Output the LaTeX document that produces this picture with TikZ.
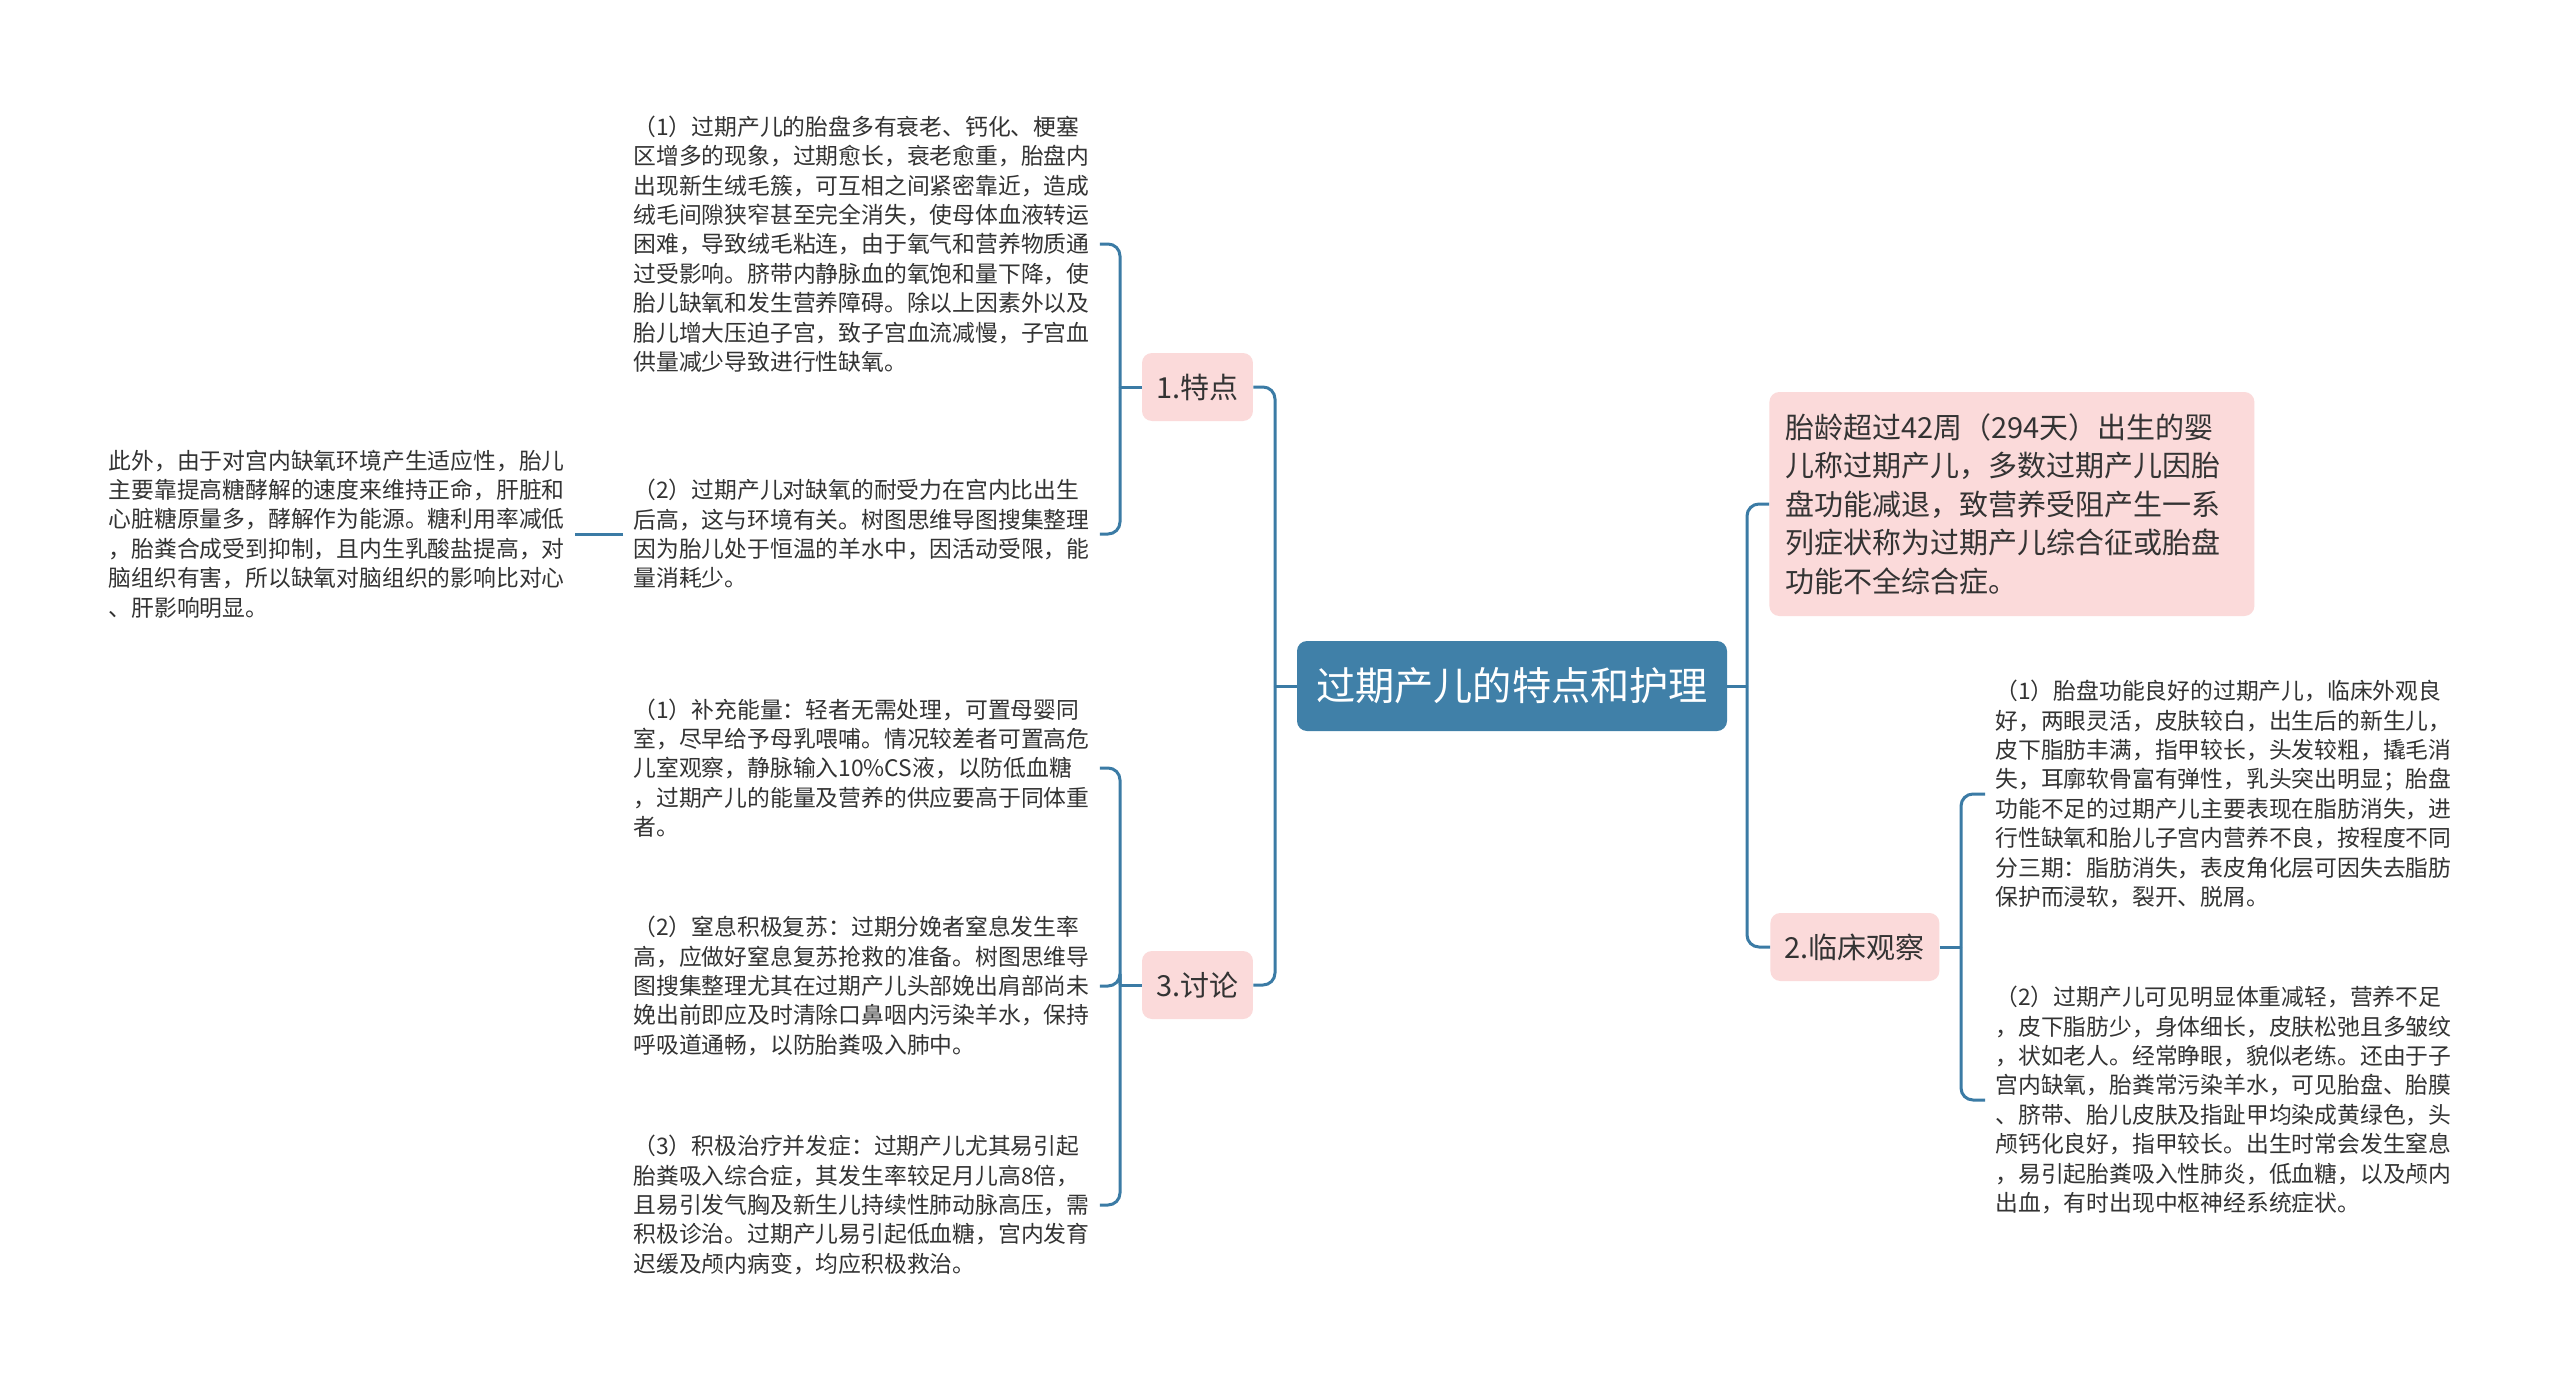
\documentclass[tikz,border=0pt]{standalone}
\usepackage{fontspec}
\setmainfont{Noto Sans CJK SC}
\usetikzlibrary{positioning}

\definecolor{linkblue}{HTML}{3B7BA5}
\definecolor{rootblue}{HTML}{4080A8}
\definecolor{topicpink}{HTML}{FBDADA}
\definecolor{inkgray}{HTML}{333333}

\tikzset{
  rootbox/.style={fill=rootblue, text=white, rounded corners=5pt,
    minimum width=215pt, minimum height=45pt, inner xsep=9pt,
    font=\fontsize{19.6pt}{24pt}\selectfont},
  topicbox/.style={fill=topicpink, text=inkgray, rounded corners=5pt,
    minimum height=34pt, inner xsep=7.2pt,
    font=\fontsize{14.5pt}{19.25pt}\selectfont},
  notetext/.style={text=inkgray, align=left, inner xsep=5pt, inner ysep=2pt,
    font=\fontsize{11.4pt}{14.7pt}\selectfont},
  branch/.style={draw=linkblue, line width=1.5pt},
}

\begin{document}
\begin{tikzpicture}[x=0.5pt, y=-0.5pt]

  \fill[white] (0,0) rectangle (2560,1386);
  \useasboundingbox (0,0) rectangle (2560,1386);

  % Define nodes
  \node[rootbox] (root) at (1512,686) {过期产儿的特点和护理};
  \node[topicbox] (t1) at (1197.5,387) {1.特点};
  \node[topicbox] (t3) at (1197.5,985) {3.讨论};
  \node[topicbox, anchor=west] (t2) at (1770,947) {2.临床观察};
  \node[topicbox, align=left, anchor=west, text width=226.5pt,
        minimum height=112pt, inner xsep=8pt] (def) at (1769,504)
    {胎龄超过42周（294天）出生的婴\\
     儿称过期产儿，多数过期产儿因胎\\
     盘功能减退，致营养受阻产生一系\\
     列症状称为过期产儿综合征或胎盘\\
     功能不全综合症。};

  % Notes of 1.特点
  \node[notetext, anchor=west] (a1) at (623,244)
    {（1）过期产儿的胎盘多有衰老、钙化、梗塞\\
     区增多的现象，过期愈长，衰老愈重，胎盘内\\
     出现新生绒毛簇，可互相之间紧密靠近，造成\\
     绒毛间隙狭窄甚至完全消失，使母体血液转运\\
     困难，导致绒毛粘连，由于氧气和营养物质通\\
     过受影响。脐带内静脉血的氧饱和量下降，使\\
     胎儿缺氧和发生营养障碍。除以上因素外以及\\
     胎儿增大压迫子宫，致子宫血流减慢，子宫血\\
     供量减少导致进行性缺氧。};
  \node[notetext, anchor=west] (a2) at (623,534)
    {（2）过期产儿对缺氧的耐受力在宫内比出生\\
     后高，这与环境有关。树图思维导图搜集整理\\
     因为胎儿处于恒温的羊水中，因活动受限，能\\
     量消耗少。};
  \node[notetext, left=24pt of a2] (a0)
    {此外，由于对宫内缺氧环境产生适应性，胎儿\\
     主要靠提高糖酵解的速度来维持正命，肝脏和\\
     心脏糖原量多，酵解作为能源。糖利用率减低\\
     ，胎粪合成受到抑制，且内生乳酸盐提高，对\\
     脑组织有害，所以缺氧对脑组织的影响比对心\\
     、肝影响明显。};

  % Notes of 3.讨论
  \node[notetext, anchor=west] (c1) at (623,768)
    {（1）补充能量：轻者无需处理，可置母婴同\\
     室，尽早给予母乳喂哺。情况较差者可置高危\\
     儿室观察，静脉输入10\%CS液，以防低血糖\\
     ，过期产儿的能量及营养的供应要高于同体重\\
     者。};
  \node[notetext, anchor=west] (c2) at (623,986)
    {（2）窒息积极复苏：过期分娩者窒息发生率\\
     高，应做好窒息复苏抢救的准备。树图思维导\\
     图搜集整理尤其在过期产儿头部娩出肩部尚未\\
     娩出前即应及时清除口鼻咽内污染羊水，保持\\
     呼吸道通畅，以防胎粪吸入肺中。};
  \node[notetext, anchor=west] (c3) at (623,1205)
    {（3）积极治疗并发症：过期产儿尤其易引起\\
     胎粪吸入综合症，其发生率较足月儿高8倍，\\
     且易引发气胸及新生儿持续性肺动脉高压，需\\
     积极诊治。过期产儿易引起低血糖，宫内发育\\
     迟缓及颅内病变，均应积极救治。};

  % Notes of 2.临床观察
  \node[notetext, anchor=west] (b1) at (1985,794)
    {（1）胎盘功能良好的过期产儿，临床外观良\\
     好，两眼灵活，皮肤较白，出生后的新生儿，\\
     皮下脂肪丰满，指甲较长，头发较粗，撬毛消\\
     失，耳廓软骨富有弹性，乳头突出明显；胎盘\\
     功能不足的过期产儿主要表现在脂肪消失，进\\
     行性缺氧和胎儿子宫内营养不良，按程度不同\\
     分三期：脂肪消失，表皮角化层可因失去脂肪\\
     保护而浸软，裂开、脱屑。};
  \node[notetext, anchor=west] (b2) at (1985,1100)
    {（2）过期产儿可见明显体重减轻，营养不足\\
     ，皮下脂肪少，身体细长，皮肤松弛且多皱纹\\
     ，状如老人。经常睁眼，貌似老练。还由于子\\
     宫内缺氧，胎粪常污染羊水，可见胎盘、胎膜\\
     、脐带、胎儿皮肤及指趾甲均染成黄绿色，头\\
     颅钙化良好，指甲较长。出生时常会发生窒息\\
     ，易引起胎粪吸入性肺炎，低血糖，以及颅内\\
     出血，有时出现中枢神经系统症状。};

  % Bracket lines
  \coordinate (lbar) at (1275,0);
  \coordinate (l1bar) at (1120,0);
  \coordinate (rbar) at (1747,0);
  \coordinate (r1bar) at (1961,0);

  % Connect the nodes
  \draw[branch] (root.west) -- (root.west -| lbar);
  \foreach \c in {t1,t3}
    \draw[branch, rounded corners=6pt] (root.west -| lbar) |- (\c.east);
  \draw[branch] (root.east) -- (root.east -| rbar);
  \foreach \c in {def,t2}
    \draw[branch, rounded corners=6pt] (root.east -| rbar) |- (\c.west);

  \draw[branch] (t1.west) -- (t1.west -| l1bar);
  \foreach \c in {a1,a2}
    \draw[branch, rounded corners=6pt] (t1.west -| l1bar) |- (\c.east);
  \draw[branch] (a2.west) -- (a0.east);

  \draw[branch] (t3.west) -- (t3.west -| l1bar);
  \foreach \c in {c1,c2,c3}
    \draw[branch, rounded corners=6pt] (t3.west -| l1bar) |- (\c.east);

  \draw[branch] (t2.east) -- (t2.east -| r1bar);
  \foreach \c in {b1,b2}
    \draw[branch, rounded corners=6pt] (t2.east -| r1bar) |- (\c.west);

\end{tikzpicture}
\end{document}
